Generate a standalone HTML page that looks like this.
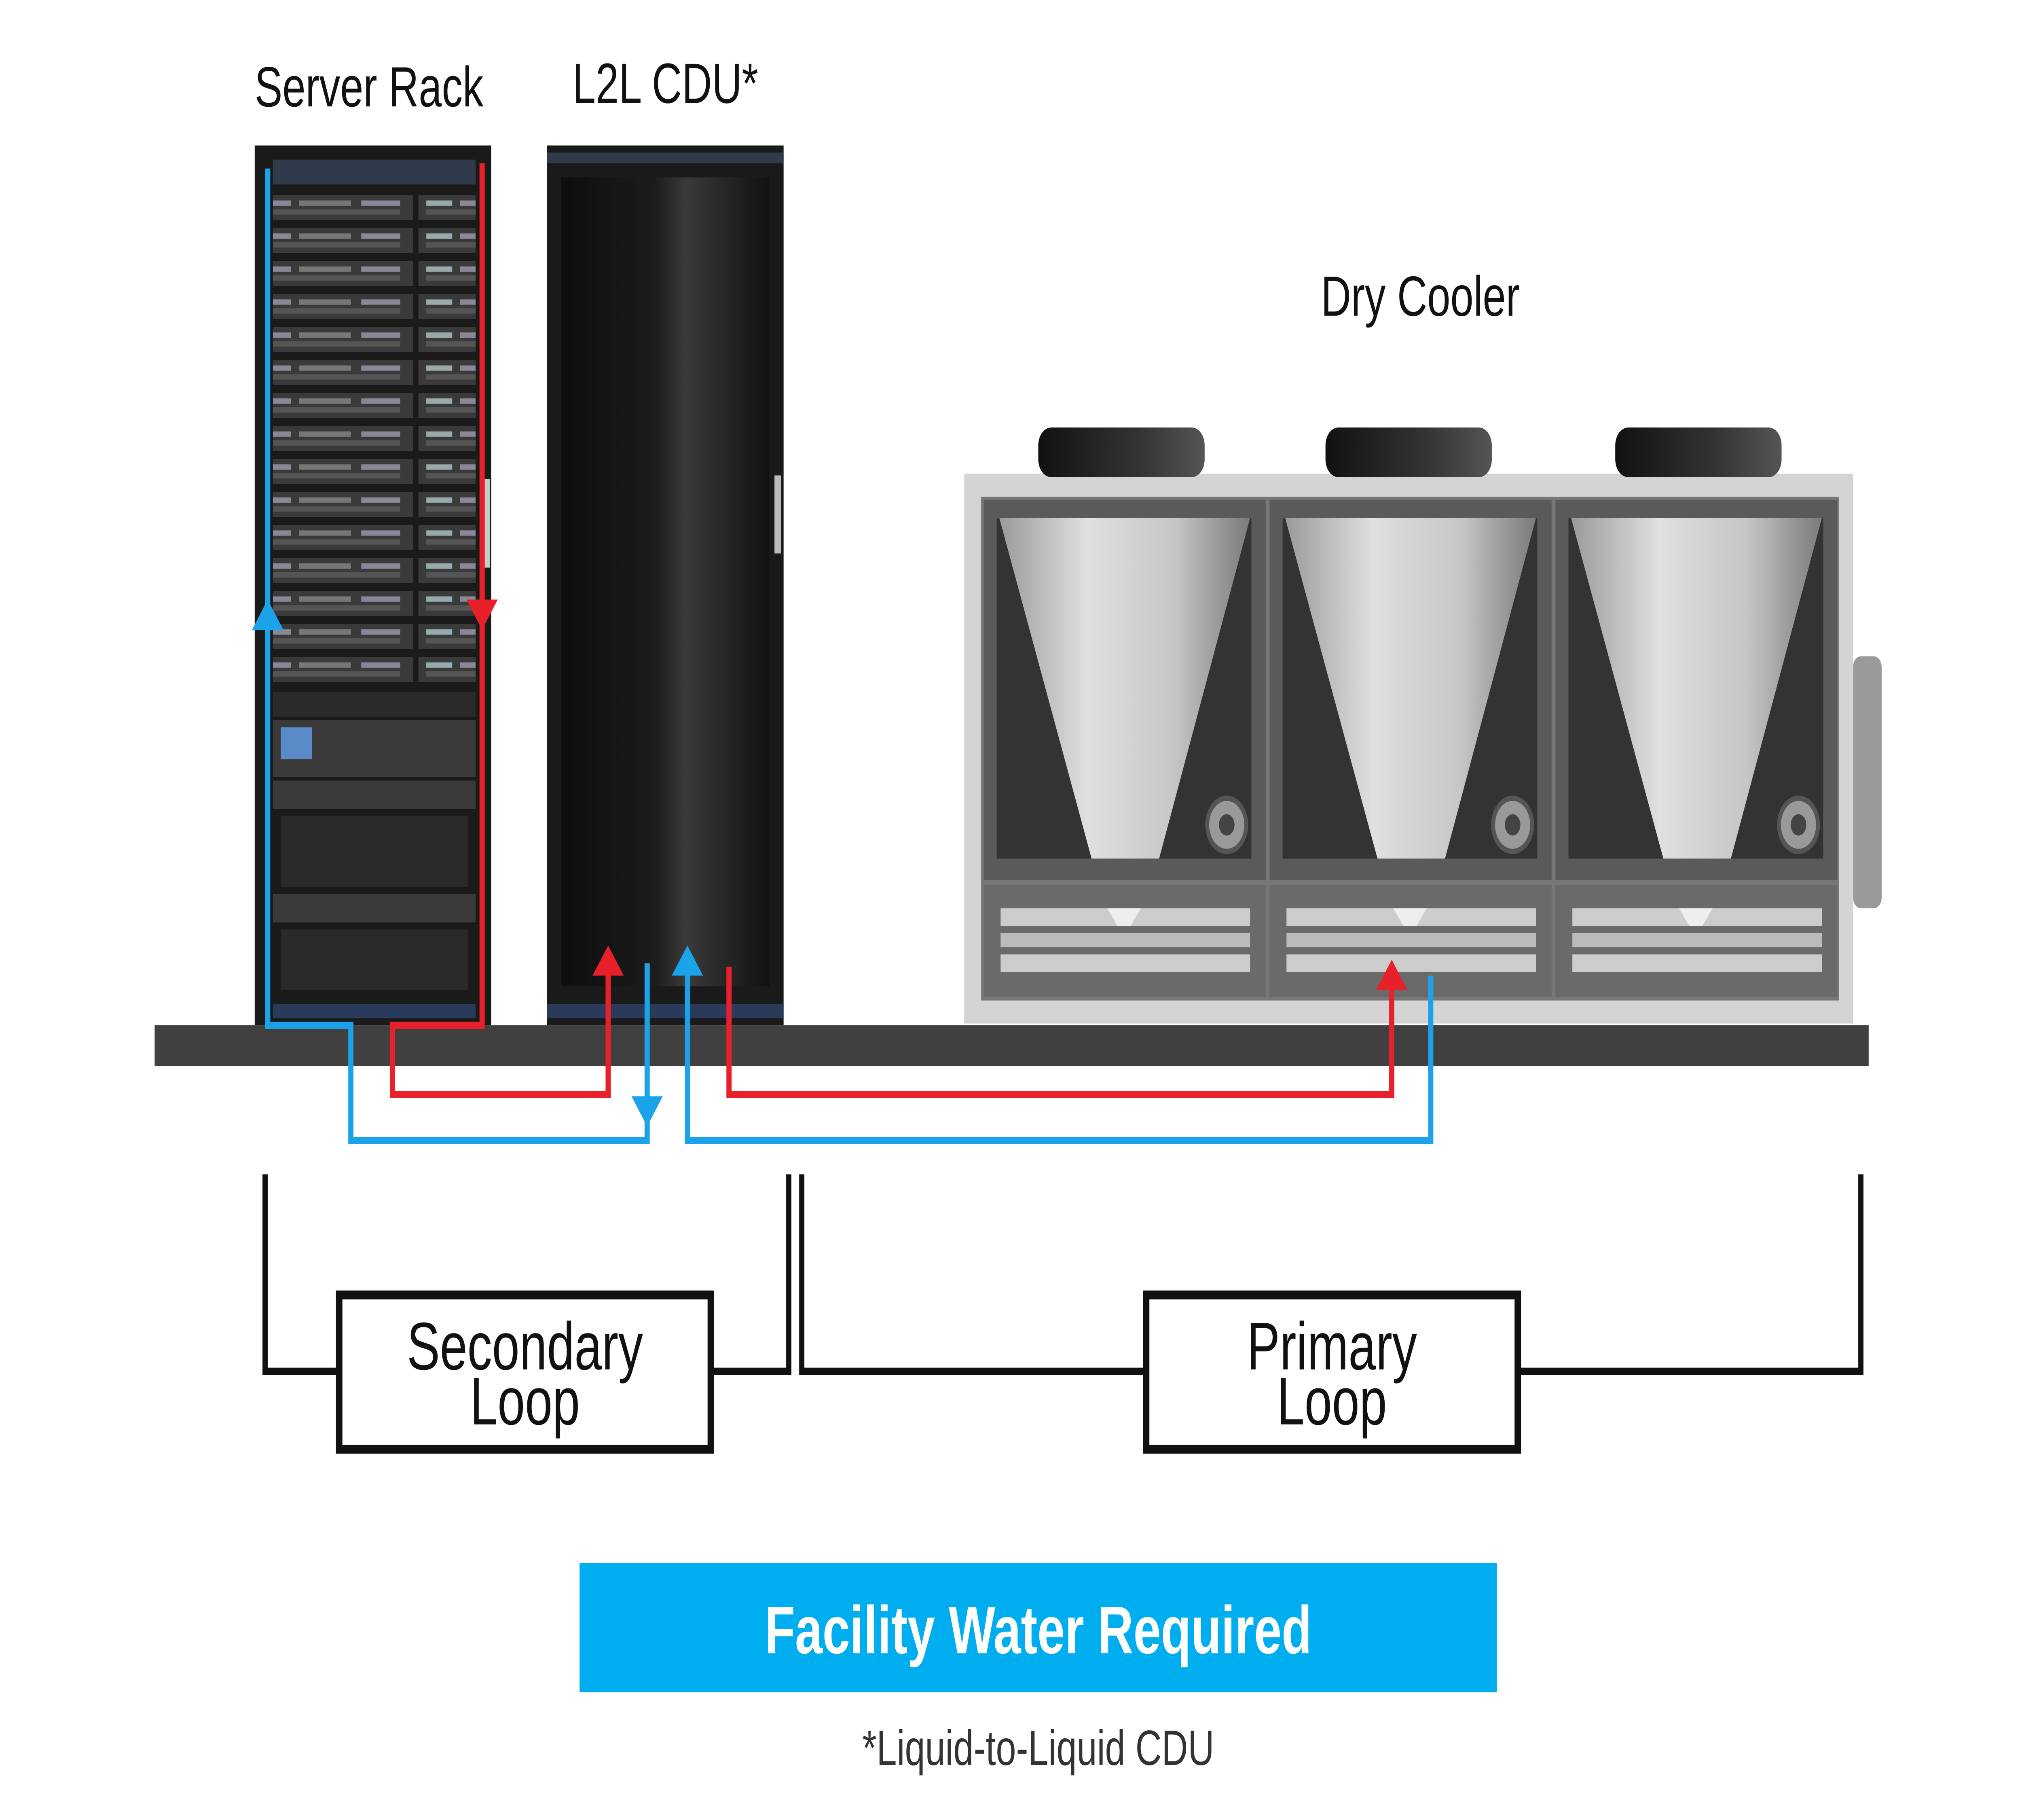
<!DOCTYPE html>
<html><head><meta charset="utf-8"><style>
html,body{margin:0;padding:0;background:#fff;width:100%;height:100%;overflow:hidden;}
svg{display:block;width:100vw;height:100vh;}
text{font-family:"Liberation Sans",sans-serif;}
</style></head><body>
<svg viewBox="0 0 1556 1026" preserveAspectRatio="none" xmlns="http://www.w3.org/2000/svg">
<defs>
<linearGradient id="cdu" x1="0" x2="1">
<stop offset="0" stop-color="#0d0d0d"/><stop offset="0.45" stop-color="#1c1c1c"/><stop offset="0.6" stop-color="#3a3a3a"/><stop offset="0.75" stop-color="#2a2a2a"/><stop offset="1" stop-color="#111"/>
</linearGradient>
<linearGradient id="cone" x1="0" x2="1">
<stop offset="0" stop-color="#9a9a9a"/><stop offset="0.35" stop-color="#e0e0e0"/><stop offset="0.7" stop-color="#c6c6c6"/><stop offset="1" stop-color="#7a7a7a"/>
</linearGradient>
<linearGradient id="fan" x1="0" x2="1">
<stop offset="0" stop-color="#111"/><stop offset="0.6" stop-color="#333"/><stop offset="1" stop-color="#555"/>
</linearGradient>
<pattern id="srv" x="0" y="108" width="160" height="18.6" patternUnits="userSpaceOnUse">
<rect width="160" height="18.6" fill="#1a1a1a"/>
<rect x="2" y="2" width="156" height="14" fill="#3a3a3a"/>
<rect x="8" y="5" width="20" height="3" fill="#9aa"/>
<rect x="34" y="5" width="30" height="3" fill="#889"/>
<rect x="70" y="5" width="40" height="3" fill="#777"/>
<rect x="118" y="5" width="30" height="3" fill="#889"/>
<rect x="8" y="10" width="140" height="3" fill="#555"/>
</pattern>
</defs>

<text x="284" y="60" font-size="32" text-anchor="middle" fill="#111">Server Rack</text>
<text x="512" y="58" font-size="32" text-anchor="middle" fill="#111">L2L CDU*</text>
<text x="1093" y="178" font-size="32" text-anchor="middle" fill="#111">Dry Cooler</text>

<rect x="196" y="82" width="182" height="496" fill="#1a1a1a"/>
<rect x="210" y="90" width="156" height="14" fill="#2f3a4a"/>
<rect x="210" y="108" width="156" height="280" fill="url(#srv)"/>
<rect x="210" y="390" width="156" height="14" fill="#2a2a2a"/>
<rect x="210" y="406" width="156" height="32" fill="#3a3a3a"/>
<rect x="216" y="410" width="24" height="18" fill="#5a8ac8"/>
<rect x="210" y="440" width="156" height="16" fill="#3a3a3a"/>
<rect x="216" y="460" width="144" height="40" fill="#2a2a2a"/>
<rect x="210" y="504" width="156" height="16" fill="#3a3a3a"/>
<rect x="216" y="524" width="144" height="34" fill="#2a2a2a"/>
<rect x="210" y="566" width="156" height="8" fill="#2a3a5a"/>
<rect x="373" y="270" width="4" height="50" fill="#ccc"/>

<rect x="421" y="82" width="182" height="496" fill="#1a1a1a"/>
<rect x="421" y="86" width="182" height="6" fill="#2f3a4a"/>
<rect x="432" y="100" width="160" height="456" fill="url(#cdu)"/>
<rect x="596" y="268" width="5" height="44" fill="#bbb"/>
<rect x="421" y="566" width="182" height="8" fill="#2a3a5a"/>

<rect x="742" y="267" width="684" height="310" fill="#d4d4d4"/>
<rect x="1426" y="370" width="22" height="142" rx="6" fill="#9a9a9a"/>
<rect x="799" y="241" width="128" height="28" rx="10" fill="url(#fan)"/>
<rect x="1020" y="241" width="128" height="28" rx="10" fill="url(#fan)"/>
<rect x="1243" y="241" width="128" height="28" rx="10" fill="url(#fan)"/>
<rect x="755" y="280" width="660" height="284" fill="#777"/>
<g id="p1">
<rect x="757" y="282" width="217" height="214" fill="#5a5a5a"/>
<rect x="767" y="292" width="196" height="192" fill="#333"/>
<polygon points="769,292 962,292 892,484 840,484" fill="url(#cone)"/>
<circle cx="944" cy="465" r="15" fill="#999" stroke="#555" stroke-width="3"/>
<circle cx="944" cy="465" r="6" fill="#444"/>
<rect x="757" y="499" width="217" height="63" fill="#6a6a6a"/>
<rect x="770" y="512" width="192" height="10" fill="#ccc"/>
<rect x="770" y="526" width="192" height="8" fill="#bbb"/>
<rect x="770" y="538" width="192" height="10" fill="#ccc"/>
<polygon points="852,512 878,512 870,522 860,522" fill="#eee"/>
</g>
<use href="#p1" x="220"/>
<use href="#p1" x="440"/>

<rect x="119" y="578" width="1319" height="23" fill="#404040"/>

<g fill="none" stroke-width="4">
<polyline points="206,95 206,578 270,578 270,643 498,643 498,543" stroke="#1aa3e8"/>
<polyline points="371,92 371,578 302,578 302,617 468,617 468,545" stroke="#e8202a"/>
<polyline points="561,545 561,617 1071,617 1071,553" stroke="#e8202a"/>
<polyline points="1101,550 1101,643 529,643 529,545" stroke="#1aa3e8"/>
</g>
<polygon points="194,355 218,355 206,338" fill="#1aa3e8"/>
<polygon points="359,338 383,338 371,355" fill="#e8202a"/>
<polygon points="456,550 480,550 468,533" fill="#e8202a"/>
<polygon points="517,550 541,550 529,533" fill="#1aa3e8"/>
<polygon points="486,618 510,618 498,635" fill="#1aa3e8"/>
<polygon points="1059,558 1083,558 1071,541" fill="#e8202a"/>

<g fill="none" stroke="#111" stroke-width="4">
<polyline points="204,662 204,773 261,773"/>
<polyline points="547,773 607,773 607,662"/>
<polyline points="617,662 617,773 882,773"/>
<polyline points="1168,773 1432,773 1432,662"/>
<rect x="261" y="730" width="286" height="87" stroke-width="5"/>
<rect x="882" y="730" width="286" height="87" stroke-width="5"/>
</g>
<text x="404" y="772" font-size="38" text-anchor="middle" fill="#111">Secondary</text>
<text x="404" y="803" font-size="38" text-anchor="middle" fill="#111">Loop</text>
<text x="1025" y="772" font-size="38" text-anchor="middle" fill="#111">Primary</text>
<text x="1025" y="803" font-size="38" text-anchor="middle" fill="#111">Loop</text>

<rect x="446" y="881" width="706" height="73" fill="#00aeef"/>
<text x="799" y="932" font-size="38" font-weight="bold" text-anchor="middle" fill="#fff">Facility Water Required</text>
<text x="799" y="995" font-size="28" text-anchor="middle" fill="#333">*Liquid-to-Liquid CDU</text>
</svg>
</body></html>
